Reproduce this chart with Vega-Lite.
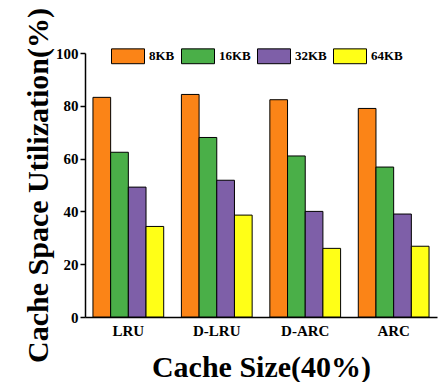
{
  "$schema": "https://vega.github.io/schema/vega-lite/v6.json",
  "width": 352,
  "height": 264,
  "autosize": {"type": "none"},
  "padding": {"left": 85, "top": 53, "right": 4, "bottom": 65},
  "background": "white",
  "config": {
    "view": {"stroke": null},
    "font": "Liberation Serif"
  },
  "data": {
    "values": [
      {"policy": "LRU", "size": "8KB", "util": 83.2},
      {"policy": "LRU", "size": "16KB", "util": 62.4},
      {"policy": "LRU", "size": "32KB", "util": 49.2},
      {"policy": "LRU", "size": "64KB", "util": 34.3},
      {"policy": "D-LRU", "size": "8KB", "util": 84.3},
      {"policy": "D-LRU", "size": "16KB", "util": 68.0},
      {"policy": "D-LRU", "size": "32KB", "util": 51.8},
      {"policy": "D-LRU", "size": "64KB", "util": 38.6},
      {"policy": "D-ARC", "size": "8KB", "util": 82.3},
      {"policy": "D-ARC", "size": "16KB", "util": 61.0},
      {"policy": "D-ARC", "size": "32KB", "util": 40.0},
      {"policy": "D-ARC", "size": "64KB", "util": 26.0},
      {"policy": "ARC", "size": "8KB", "util": 79.0},
      {"policy": "ARC", "size": "16KB", "util": 56.8},
      {"policy": "ARC", "size": "32KB", "util": 39.0},
      {"policy": "ARC", "size": "64KB", "util": 26.8}
    ]
  },
  "mark": {"type": "bar", "stroke": "black", "strokeWidth": 1},
  "encoding": {
    "x": {
      "field": "policy",
      "type": "nominal",
      "sort": ["LRU", "D-LRU", "D-ARC", "ARC"],
      "scale": {"paddingInner": 0.2, "paddingOuter": 0.09},
      "axis": {
        "title": "Cache Size(40%)",
        "titleFont": "Liberation Serif",
        "titleFontSize": 30,
        "titleFontWeight": "bold",
        "titleColor": "black",
        "titlePadding": 14,
        "labelAngle": 0,
        "labelFont": "Liberation Serif",
        "labelFontSize": 15,
        "labelFontWeight": "bold",
        "labelColor": "black",
        "labelPadding": 6,
        "ticks": false,
        "domainColor": "black",
        "domainWidth": 1.5
      }
    },
    "xOffset": {
      "field": "size",
      "type": "nominal",
      "sort": ["8KB", "16KB", "32KB", "64KB"],
      "scale": {"paddingInner": 0, "paddingOuter": 0}
    },
    "y": {
      "field": "util",
      "type": "quantitative",
      "scale": {"domain": [0, 100], "nice": false},
      "axis": {
        "title": "Cache Space Utilization(%)",
        "titleFont": "Liberation Serif",
        "titleFontSize": 30,
        "titleFontWeight": "bold",
        "titleColor": "black",
        "titlePadding": 2,
        "values": [0, 20, 40, 60, 80, 100],
        "grid": false,
        "labelFont": "Liberation Serif",
        "labelFontSize": 15,
        "labelFontWeight": "bold",
        "labelColor": "black",
        "labelPadding": 2,
        "tickSize": 5,
        "tickColor": "black",
        "tickWidth": 1.5,
        "domainColor": "black",
        "domainWidth": 1.5
      }
    },
    "color": {
      "field": "size",
      "type": "nominal",
      "sort": ["8KB", "16KB", "32KB", "64KB"],
      "scale": {
        "domain": ["8KB", "16KB", "32KB", "64KB"],
        "range": ["#FB8417", "#4AAF48", "#7E5FA8", "#FFFF17"]
      },
      "legend": {
        "title": null,
        "orient": "none",
        "direction": "horizontal",
        "legendX": 26,
        "legendY": -14,
        "padding": 0,
        "columnPadding": 4,
        "symbolType": "M-1,-0.45H1V0.45H-1Z",
        "symbolSize": 1089,
        "symbolStrokeColor": "black",
        "symbolStrokeWidth": 1,
        "symbolOpacity": 1,
        "labelFont": "Liberation Serif",
        "labelFontSize": 13,
        "labelFontWeight": "bold",
        "labelColor": "black",
        "labelOffset": 4
      }
    }
  }
}
